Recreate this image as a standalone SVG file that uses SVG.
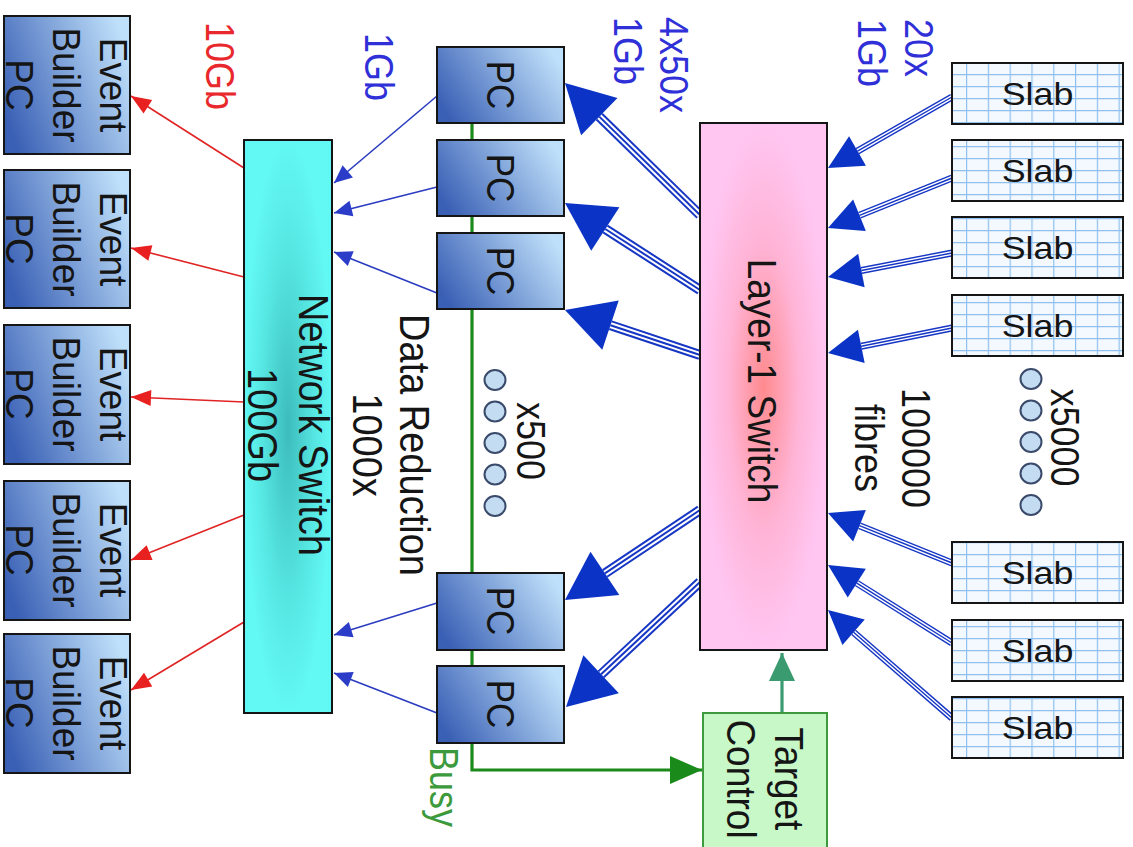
<svg xmlns="http://www.w3.org/2000/svg" width="1133" height="847" viewBox="0 0 1133 847">
<style>
.box{stroke:#151515;stroke-width:2}
.pcb{fill:url(#pcGrad)}
.slab{fill:url(#grid)}
.t{font-family:"Liberation Sans",Arial,sans-serif;fill:#151515;text-anchor:middle}
.ts{text-anchor:start}
.red{fill:#e8282c}
.blu{fill:#3030d8}
.grn{fill:#3c9a3c}
.dot{fill:#c4dcf2;stroke:#3a4a6a;stroke-width:2}
.rl{stroke:#e02424;stroke-width:1.6;fill:none;marker-end:url(#mRed)}
.bl{stroke:#2a3cc0;stroke-width:1.6;fill:none;marker-end:url(#mBlue)}
.f1{stroke:#1636c4;stroke-width:10;fill:none}
.f2{stroke:#fff;stroke-width:6;fill:none}
.f3{stroke:#1636c4;stroke-width:2;fill:none;marker-end:url(#mBig)}
.s1{stroke:#1636c4;stroke-width:7;fill:none}
.s2{stroke:#fff;stroke-width:4.2;fill:none}
.s3{stroke:#1636c4;stroke-width:1.4;fill:none;marker-end:url(#mSlab)}
</style>
<defs>
<linearGradient id="pcGrad" x1="0" y1="0.7" x2="1" y2="0.3">
<stop offset="0" stop-color="#3a60b5"/>
<stop offset="1" stop-color="#bfe0fa"/>
</linearGradient>
<radialGradient id="nsGrad" cx="0.5" cy="0.5" r="0.5">
<stop offset="0" stop-color="#3cbcbc"/>
<stop offset="0.6" stop-color="#56e6e2"/>
<stop offset="1" stop-color="#62f8f4"/>
</radialGradient>
<radialGradient id="l1Grad" cx="0.5" cy="0.5" r="0.5">
<stop offset="0" stop-color="#ff8a8e"/>
<stop offset="0.55" stop-color="#ffb4d6"/>
<stop offset="1" stop-color="#ffc6f2"/>
</radialGradient>
<pattern id="grid" patternUnits="userSpaceOnUse" x="966" y="62" width="21.8" height="12">
<rect width="21.8" height="12" fill="#f4f9ff"/>
<path d="M0.6,0 V12 M0,0.6 H21.8" stroke="#8fc0ee" stroke-width="1.2"/>
</pattern>
<marker id="mRed" markerUnits="userSpaceOnUse" orient="auto" overflow="visible" markerWidth="20" markerHeight="20" refX="0" refY="0">
<path d="M-20,-8 L0,0 L-20,8 z" fill="#e82020"/>
</marker>
<marker id="mBlue" markerUnits="userSpaceOnUse" orient="auto" overflow="visible" markerWidth="20" markerHeight="20" refX="0" refY="0">
<path d="M-18,-8 L0,0 L-18,8 z" fill="#2a3cc8"/>
</marker>
<marker id="mBig" markerUnits="userSpaceOnUse" orient="auto" overflow="visible" markerWidth="50" markerHeight="50" refX="0" refY="0">
<path d="M0,-26 L48,0 L0,26 z" fill="#0b33c6"/>
</marker>
<marker id="mSlab" markerUnits="userSpaceOnUse" orient="auto" overflow="visible" markerWidth="40" markerHeight="40" refX="0" refY="0">
<path d="M0,-17 L34,0 L0,17 z" fill="#0b33c6"/>
</marker>
<marker id="mGreen" markerUnits="userSpaceOnUse" orient="auto" overflow="visible" markerWidth="40" markerHeight="40" refX="0" refY="0">
<path d="M-32,-14 L0,0 L-32,14 z" fill="#1a8a1a"/>
</marker>
<marker id="mTeal" markerUnits="userSpaceOnUse" orient="auto" overflow="visible" markerWidth="40" markerHeight="40" refX="0" refY="0">
<path d="M-28,-13 L0,0 L-28,13 z" fill="#3a9a70"/>
</marker>
</defs>
<rect width="1133" height="847" fill="#fff"/>

<g id="connectors">
<path d="M472,100 V770 H702" stroke="#1a8a1a" stroke-width="3.2" fill="none" marker-end="url(#mGreen)"/>
<path d="M782,713 V653" stroke="#3a9a70" stroke-width="3.2" fill="none" marker-end="url(#mTeal)"/>
<g>
<path class="rl" d="M244,168 L131,96"/>
<path class="rl" d="M244,277 L131,248"/>
<path class="rl" d="M244,402 L131,397"/>
<path class="rl" d="M244,515 L131,560"/>
<path class="rl" d="M244,622 L131,690"/>
</g>
<g>
<path class="bl" d="M437,96 L334,183"/>
<path class="bl" d="M437,187 L334,213"/>
<path class="bl" d="M437,293 L334,252"/>
<path class="bl" d="M437,603 L334,635"/>
<path class="bl" d="M437,713 L334,673"/>
</g>
<g class="f1">
<path d="M700,215 L599.3,116.6"/><path d="M700,290 L605.3,229"/><path d="M700,355 L610.5,325.2"/><path d="M700,510 L604.9,573.4"/><path d="M700,582 L601.1,674.3"/>
</g>
<g class="f2">
<path d="M700,215 L599.3,116.6"/><path d="M700,290 L605.3,229"/><path d="M700,355 L610.5,325.2"/><path d="M700,510 L604.9,573.4"/><path d="M700,582 L601.1,674.3"/>
</g>
<g class="f3">
<path d="M700,215 L599.3,116.6"/><path d="M700,290 L605.3,229"/><path d="M700,355 L610.5,325.2"/><path d="M700,510 L604.9,573.4"/><path d="M700,582 L601.1,674.3"/>
</g>
<g class="s1">
<path d="M952,97 L857.5,151.1"/><path d="M952,178 L859.5,215.3"/><path d="M952,253 L861.4,270.5"/><path d="M952,328 L861.3,346.3"/><path d="M952,563 L859.5,525.7"/><path d="M952,643 L856.8,583.1"/><path d="M952,718 L853.6,632.3"/>
</g>
<g class="s2">
<path d="M952,97 L857.5,151.1"/><path d="M952,178 L859.5,215.3"/><path d="M952,253 L861.4,270.5"/><path d="M952,328 L861.3,346.3"/><path d="M952,563 L859.5,525.7"/><path d="M952,643 L856.8,583.1"/><path d="M952,718 L853.6,632.3"/>
</g>
<g class="s3">
<path d="M952,97 L857.5,151.1"/><path d="M952,178 L859.5,215.3"/><path d="M952,253 L861.4,270.5"/><path d="M952,328 L861.3,346.3"/><path d="M952,563 L859.5,525.7"/><path d="M952,643 L856.8,583.1"/><path d="M952,718 L853.6,632.3"/>
</g>
</g>

<g id="eb1"><rect class="box pcb" x="4" y="16" width="126" height="138"/>
<g transform="translate(67,85) scale(1.05,1) rotate(90)"><text class="t" font-size="37"><tspan x="0" y="-31.6">Event</tspan><tspan x="0" y="13.2">Builder</tspan><tspan x="0" y="58">PC</tspan></text></g></g>
<g id="eb2"><rect class="box pcb" x="4" y="170" width="126" height="138"/>
<g transform="translate(67,239) scale(1.05,1) rotate(90)"><text class="t" font-size="37"><tspan x="0" y="-31.6">Event</tspan><tspan x="0" y="13.2">Builder</tspan><tspan x="0" y="58">PC</tspan></text></g></g>
<g id="eb3"><rect class="box pcb" x="4" y="325" width="126" height="139"/>
<g transform="translate(67,394) scale(1.05,1) rotate(90)"><text class="t" font-size="37"><tspan x="0" y="-31.6">Event</tspan><tspan x="0" y="13.2">Builder</tspan><tspan x="0" y="58">PC</tspan></text></g></g>
<g id="eb4"><rect class="box pcb" x="4" y="481" width="126" height="139"/>
<g transform="translate(67,550) scale(1.05,1) rotate(90)"><text class="t" font-size="37"><tspan x="0" y="-31.6">Event</tspan><tspan x="0" y="13.2">Builder</tspan><tspan x="0" y="58">PC</tspan></text></g></g>
<g id="eb5"><rect class="box pcb" x="4" y="634" width="126" height="139"/>
<g transform="translate(67,703) scale(1.05,1) rotate(90)"><text class="t" font-size="37"><tspan x="0" y="-31.6">Event</tspan><tspan x="0" y="13.2">Builder</tspan><tspan x="0" y="58">PC</tspan></text></g></g>

<g id="netswitch"><rect class="box" fill="url(#nsGrad)" x="244" y="140" width="88" height="573"/>
<g transform="translate(288.5,425) scale(1.1,1) rotate(90)"><text class="t" font-size="38"><tspan x="0" y="-9.6">Network Switch</tspan><tspan x="0" y="36.8">100Gb</tspan></text></g></g>

<g id="pc1"><rect class="box pcb" x="437" y="47" width="127" height="76"/>
<g transform="translate(501,85) scale(1.1,1) rotate(90)"><text class="t" font-size="35" y="12.5">PC</text></g></g>
<g id="pc2"><rect class="box pcb" x="437" y="140" width="127" height="76"/>
<g transform="translate(501,178) scale(1.1,1) rotate(90)"><text class="t" font-size="35" y="12.5">PC</text></g></g>
<g id="pc3"><rect class="box pcb" x="437" y="233" width="127" height="76"/>
<g transform="translate(501,271) scale(1.1,1) rotate(90)"><text class="t" font-size="35" y="12.5">PC</text></g></g>
<g id="pc4"><rect class="box pcb" x="437" y="573" width="127" height="77"/>
<g transform="translate(501,611) scale(1.1,1) rotate(90)"><text class="t" font-size="35" y="12.5">PC</text></g></g>
<g id="pc5"><rect class="box pcb" x="437" y="666" width="127" height="77"/>
<g transform="translate(501,704) scale(1.1,1) rotate(90)"><text class="t" font-size="35" y="12.5">PC</text></g></g>

<g id="layer1"><rect class="box" fill="url(#l1Grad)" x="700" y="123" width="127" height="527"/>
<g transform="translate(763,381) scale(1.12,1) rotate(90)"><text class="t" font-size="37" y="13.2">Layer-1 Switch</text></g></g>

<g id="target"><rect fill="#c8f7c8" stroke="#3d9b3d" stroke-width="2" x="703" y="713" width="124" height="145"/>
<g transform="translate(766,779) scale(1.12,1) rotate(90)"><text class="t" font-size="37"><tspan x="0" y="-8">Target</tspan><tspan x="0" y="34.4">Control</tspan></text></g></g>

<g id="slab1"><rect class="box slab" x="952" y="63" width="171" height="61"/><g transform="translate(1037.5,93.5) scale(1.12,1)"><text class="t" font-size="32" y="11.5">Slab</text></g></g>
<g id="slab2"><rect class="box slab" x="952" y="140" width="171" height="61"/><g transform="translate(1037.5,170.5) scale(1.12,1)"><text class="t" font-size="32" y="11.5">Slab</text></g></g>
<g id="slab3"><rect class="box slab" x="952" y="217" width="171" height="61"/><g transform="translate(1037.5,247.5) scale(1.12,1)"><text class="t" font-size="32" y="11.5">Slab</text></g></g>
<g id="slab4"><rect class="box slab" x="952" y="295" width="171" height="61"/><g transform="translate(1037.5,325.5) scale(1.12,1)"><text class="t" font-size="32" y="11.5">Slab</text></g></g>
<g id="slab5"><rect class="box slab" x="952" y="542" width="171" height="61"/><g transform="translate(1037.5,572.5) scale(1.12,1)"><text class="t" font-size="32" y="11.5">Slab</text></g></g>
<g id="slab6"><rect class="box slab" x="952" y="620" width="171" height="61"/><g transform="translate(1037.5,650.5) scale(1.12,1)"><text class="t" font-size="32" y="11.5">Slab</text></g></g>
<g id="slab7"><rect class="box slab" x="952" y="697" width="171" height="61"/><g transform="translate(1037.5,727.5) scale(1.12,1)"><text class="t" font-size="32" y="11.5">Slab</text></g></g>

<g id="labels">
<g transform="translate(220,66) scale(1.12,1) rotate(90)"><text class="t red" font-size="36" y="12.9">10Gb</text></g>
<g transform="translate(379,67) scale(1.12,1) rotate(90)"><text class="t blu" font-size="36" y="12.9">1Gb</text></g>
<g transform="translate(651,17) scale(1.12,1) rotate(90)"><text class="t ts blu" font-size="36"><tspan x="0" y="-7.6">4x50x</tspan><tspan x="0" y="33.4">1Gb</tspan></text></g>
<g transform="translate(896,19) scale(1.12,1) rotate(90)"><text class="t ts blu" font-size="36"><tspan x="0" y="-7.9">20x</tspan><tspan x="0" y="33.7">1Gb</tspan></text></g>
<g transform="translate(392,445) scale(1.12,1) rotate(90)"><text class="t" font-size="38"><tspan x="0" y="-7.2">Data Reduction</tspan><tspan x="0" y="34.4">1000x</tspan></text></g>
<g transform="translate(531,441) scale(1.12,1) rotate(90)"><text class="t" font-size="36" y="12.9">x500</text></g>
<g transform="translate(1065,437.5) scale(1.12,1) rotate(90)"><text class="t" font-size="36" y="12.9">x5000</text></g>
<g transform="translate(893,448) scale(1.12,1) rotate(90)"><text class="t" font-size="36"><tspan x="0" y="-8.3">100000</tspan><tspan x="0" y="34.1">fibres</tspan></text></g>
<g transform="translate(444,787) scale(1.12,1) rotate(90)"><text class="t grn" font-size="36" y="12.9">Busy</text></g>
</g>

<g id="dots500">
<ellipse class="dot" cx="495" cy="380" rx="10.5" ry="10"/>
<ellipse class="dot" cx="495" cy="411.5" rx="10.5" ry="10"/>
<ellipse class="dot" cx="495" cy="443" rx="10.5" ry="10"/>
<ellipse class="dot" cx="495" cy="474.5" rx="10.5" ry="10"/>
<ellipse class="dot" cx="495" cy="506" rx="10.5" ry="10"/>
</g>
<g id="dots5000">
<ellipse class="dot" cx="1031" cy="379" rx="10.5" ry="10"/>
<ellipse class="dot" cx="1031" cy="410.5" rx="10.5" ry="10"/>
<ellipse class="dot" cx="1031" cy="442" rx="10.5" ry="10"/>
<ellipse class="dot" cx="1031" cy="473.5" rx="10.5" ry="10"/>
<ellipse class="dot" cx="1031" cy="505" rx="10.5" ry="10"/>
</g>
</svg>
